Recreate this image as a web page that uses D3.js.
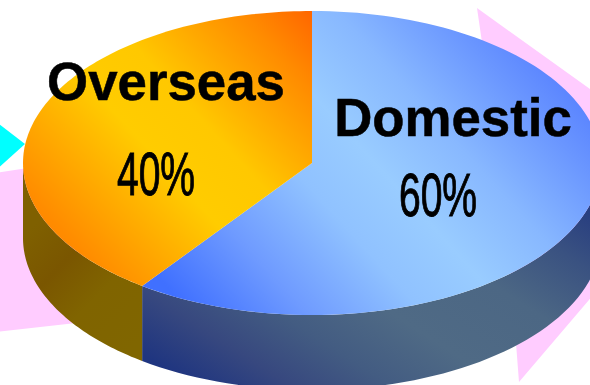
<!DOCTYPE html>
<html>
<head>
<meta charset="utf-8">
<script src="https://cdn.jsdelivr.net/npm/d3@7"></script>
<style>
  html, body { margin: 0; padding: 0; background: #fff; overflow: hidden; }
  svg { display: block; }
  text { font-family: "Liberation Sans", Arial, sans-serif; fill: #000; stroke: #000; }
</style>
</head>
<body>
<div id="chart"></div>
<script>
const categories = ["Domestic", "Overseas"];
const shares = [60, 40];
const shareLabels = ["60%", "40%"];

const width = 590, height = 385;
const depth = 75;

const svg = d3.select("#chart").append("svg")
  .attr("width", width).attr("height", height);

// Unit circle coordinates projected to the tilted pie's top face
const px = d3.scaleLinear().domain([-1, 1]).range([23, 601]);
const py = d3.scaleLinear().domain([-1, 1]).range([11, 315]);

const defs = svg.append("defs");
function linear(id, p, stops) {
  const g = defs.append("linearGradient").attr("id", id)
    .attr("gradientUnits", "userSpaceOnUse")
    .attr("x1", p[0]).attr("y1", p[1]).attr("x2", p[2]).attr("y2", p[3]);
  stops.forEach(s => g.append("stop").attr("offset", s[0]).attr("stop-color", s[1]));
}
linear("top-Domestic", [535, 50, 215, 340], [
  [0, "#5a84ff"], [0.1, "#6a96ff"], [0.28, "#88b8ff"], [0.45, "#99ccff"],
  [0.6, "#90c2ff"], [0.8, "#6f9bff"], [1, "#4070ff"]
]);
linear("top-Overseas", [312, 11, 40, 260], [
  [0, "#ff6600"], [0.14, "#ff8a00"], [0.42, "#ffc800"], [0.58, "#ffcc00"],
  [0.78, "#ffa400"], [0.9, "#ff8c00"], [1, "#ff8000"]
]);
linear("side-Domestic", [590, 215, 396, 517], [
  [0, "#293f80"], [0.13, "#3a5281"], [0.31, "#4c6784"], [0.53, "#4f6a85"],
  [0.7, "#435c82"], [0.85, "#37487f"], [1, "#1f3580"]
]);
linear("side-Overseas", [30, 230, 142, 340], [
  [0, "#7f6000"], [0.3, "#7a5600"], [0.6, "#806400"], [1, "#806600"]
]);

// Backdrop block arrows that run behind the pie
const backdrop = [
  { fill: "#ffccff", pts: [[477, 8], [640, 125], [640, 240], [519, 382], [505, 200]] },
  { fill: "#ffccff", pts: [[-5, 173], [80, 160], [85, 322], [-5, 332]] },
  { fill: "#00ffff", pts: [[-5, 121], [25, 144], [-5, 171]] }
];
svg.append("g").selectAll("polygon").data(backdrop).join("polygon")
  .attr("points", d => d.pts.join(" "))
  .attr("fill", d => d.fill);

const slices = d3.pie().sort(null).value(d => d)(shares)
  .map((s, i) => ({ ...s, name: categories[i], label: shareLabels[i] }));

const onRim = a => [px(Math.sin(a)), py(-Math.cos(a))];

// Side wall: only the front half of the rim is visible
function wallPath(s) {
  const a0 = Math.max(s.startAngle, Math.PI / 2);
  const a1 = Math.min(s.endAngle, 3 * Math.PI / 2);
  if (a1 <= a0) return null;
  const steps = d3.range(0, 61).map(k => a0 + (a1 - a0) * k / 60);
  const upper = steps.map(onRim);
  const lower = steps.slice().reverse().map(a => {
    const p = onRim(a);
    return [p[0], p[1] + depth];
  });
  return d3.line()(upper.concat(lower)) + "Z";
}

svg.append("g").selectAll("path").data(slices).join("path")
  .attr("d", wallPath)
  .attr("fill", d => `url(#side-${d.name})`);

// Top face
function facePath(s) {
  const steps = d3.range(0, 121).map(k =>
    s.startAngle + (s.endAngle - s.startAngle) * k / 120);
  return d3.line()([[px(0), py(0)]].concat(steps.map(onRim))) + "Z";
}
svg.append("g").selectAll("path").data(slices).join("path")
  .attr("d", facePath)
  .attr("fill", d => `url(#top-${d.name})`);

// Slice names and narrowed percentage labels
const namePos = { Domestic: [453, 136], Overseas: [166, 100] };
const sharePos = { Domestic: [438, 216], Overseas: [156, 195] };

const labels = svg.append("g").selectAll("g").data(slices).join("g");
labels.append("text")
  .attr("x", d => namePos[d.name][0]).attr("y", d => namePos[d.name][1])
  .attr("text-anchor", "middle")
  .attr("font-size", 52.8).attr("font-weight", 700)
  .attr("stroke-width", 0.5)
  .text(d => d.name);
labels.append("text")
  .attr("transform", d => `translate(${sharePos[d.name][0]},${sharePos[d.name][1]}) scale(0.64,1)`)
  .attr("text-anchor", "middle")
  .attr("font-size", 61)
  .attr("stroke-width", 1)
  .text(d => d.label);
</script>
</body>
</html>
